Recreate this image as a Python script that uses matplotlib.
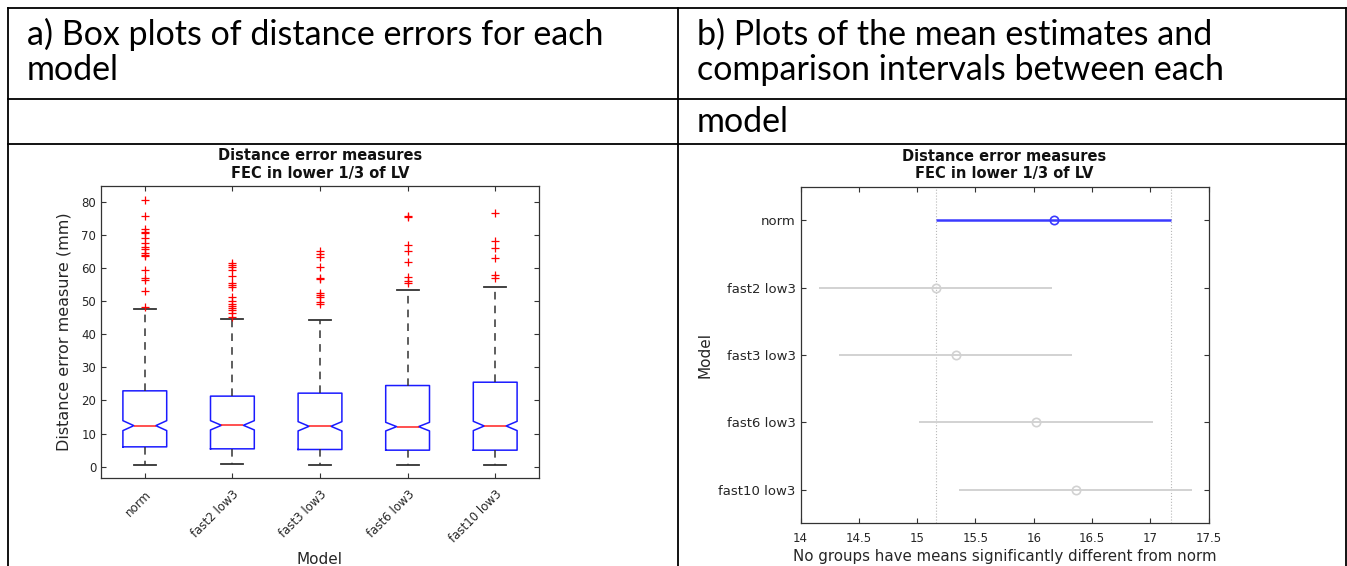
import numpy as np
import matplotlib
matplotlib.use("Agg")
from matplotlib import pyplot as plt
from matplotlib.lines import Line2D

W, H = 1347, 566  # figure size in pixels

models = ["norm", "fast2 low3", "fast3 low3", "fast6 low3", "fast10 low3"]

# Box plot summaries of the distance errors (mm)
q1 = [6.0, 5.4, 5.2, 5.0, 5.0]
medians = [12.4, 12.5, 12.2, 12.1, 12.3]
q3 = [22.9, 21.3, 22.2, 24.5, 25.5]
whisk_lo = [0.5, 0.8, 0.5, 0.6, 0.5]
whisk_hi = [47.6, 44.5, 44.4, 53.2, 54.3]
notch_half = [1.5, 1.4, 1.4, 1.3, 1.4]

fliers_norm = [80.6, 75.6, 71.7, 70.9, 70.4, 68.9, 67.6, 66.4, 65.8, 64.4,
               63.9, 63.5, 59.4, 56.9, 56.4, 52.9, 48.3]
fliers_fast2 = [61.6, 60.9, 60.2, 59.4, 57.4, 55.4, 54.9, 54.2, 51.3, 50.1,
                49.1, 48.5, 47.8, 47.3, 46.5, 45.3]
fliers_fast3 = [65.1, 64.2, 63.4, 60.2, 56.9, 56.6, 52.5, 51.8, 51.3, 49.8, 49.1]
fliers_fast6 = [75.5, 75.2, 66.9, 65.2, 61.9, 57.2, 56.1, 55.4]
fliers_fast10 = [76.5, 68.1, 65.9, 62.9, 57.9, 56.9]
fliers = [fliers_norm, fliers_fast2, fliers_fast3, fliers_fast6, fliers_fast10]

# Multiple comparison: group mean estimates and comparison intervals
means = [16.17, 15.16, 15.33, 16.02, 16.36]
ci_half = [1.005, 1.0, 1.0, 1.0, 1.0]

header_a = ["a) Box plots of distance errors for each", "model"]
header_b = ["b) Plots of the mean estimates and", "comparison intervals between each", "model"]
plot_title = "Distance error measures\nFEC in lower 1/3 of LV"

def fx(x):
    return x / W

def fy(y):
    return 1 - y / H

fig = plt.figure(figsize=(W / 100, H / 100), dpi=100)
fig.patch.set_facecolor("white")

# table grid around the two panels
grid_kw = dict(color="black", lw=1.3)
for (x0, y0, x1, y1) in [(7.5, 7.5, 1346, 7.5), (7.5, 99, 1346, 99), (7.5, 144, 1346, 144),
                         (7.5, 7.5, 7.5, 566), (678, 7.5, 678, 566), (1346, 7.5, 1346, 566)]:
    fig.add_artist(Line2D([fx(x0), fx(x1)], [fy(y0), fy(y1)], **grid_kw))

head_font = ["Lato", "DejaVu Sans"]
head_size = 24.5
fig.text(fx(27), fy(45), header_a[0], fontsize=head_size, family=head_font, va="baseline")
fig.text(fx(27), fy(80), header_a[1], fontsize=head_size, family=head_font, va="baseline")
fig.text(fx(697), fy(45), header_b[0], fontsize=head_size, family=head_font, va="baseline")
fig.text(fx(697), fy(80), header_b[1], fontsize=head_size, family=head_font, va="baseline")
fig.text(fx(697), fy(132), header_b[2], fontsize=head_size, family=head_font, va="baseline")

tick_col = "#262626"
label_size = 11

def style_axes(ax):
    for s in ax.spines.values():
        s.set_color("#333333")
        s.set_linewidth(0.9)
    ax.tick_params(direction="in", top=True, right=True, length=3.5, width=0.8,
                   colors="#333333", labelcolor=tick_col, labelsize=8.5)
    ax.set_title(plot_title, fontsize=10.5, fontweight="bold", color="#111111", pad=6,
                 linespacing=1.2)

# a) notched box plots
ax1 = fig.add_axes([fx(101), fy(478), (539 - 101) / W, (478 - 186) / H])
stats = []
for i in range(len(models)):
    stats.append(dict(med=medians[i], q1=q1[i], q3=q3[i], whislo=whisk_lo[i],
                      whishi=whisk_hi[i], fliers=fliers[i],
                      cilo=medians[i] - notch_half[i], cihi=medians[i] + notch_half[i]))
pos = np.arange(1, len(models) + 1)
ax1.bxp(stats, positions=pos, widths=0.5, capwidths=0.25, shownotches=True,
        boxprops=dict(color="#1a1aff", lw=1.1),
        medianprops=dict(color="#ff2020", lw=1.1),
        whiskerprops=dict(color="#333333", lw=1.1, linestyle=(0, (5, 4))),
        capprops=dict(color="#333333", lw=1.3),
        flierprops=dict(marker="+", markeredgecolor="red", markersize=6, markeredgewidth=0.9,
                        linestyle="none"))
ax1.set_xlim(0.5, 5.5)
ax1.set_ylim(-3.4, 84.7)
ax1.set_yticks(np.arange(0, 81, 10))
ax1.set_xticks(pos)
ax1.set_xticklabels(models, rotation=45, ha="right", rotation_mode="anchor")
style_axes(ax1)
ax1.tick_params(axis="x", pad=7)
ax1.set_ylabel("Distance error measure (mm)", fontsize=11.5, color=tick_col)
ax1.yaxis.set_label_coords(-0.067, 0.5)
ax1.set_xlabel("Model", fontsize=label_size, color=tick_col, va="top")
ax1.xaxis.set_label_coords(0.5, -0.255)

# b) comparison intervals, norm on top
ax2 = fig.add_axes([fx(800.5), fy(523.3), (1208.7 - 800.5) / W, (523.3 - 186.7) / H])
ypos = np.arange(len(models), 0, -1)
ref_lo, ref_hi = means[0] - ci_half[0], means[0] + ci_half[0]
ax2.axvline(ref_lo, color="#b8b8b8", lw=0.8, ls=":")
ax2.axvline(ref_hi, color="#b8b8b8", lw=0.8, ls=":")
for i in range(len(models)):
    if i == 0:
        col, lw = "#3a3aff", 1.8
    else:
        col, lw = "#d2d2d2", 1.4
    ax2.plot([means[i] - ci_half[i], means[i] + ci_half[i]], [ypos[i], ypos[i]],
             color=col, lw=lw, solid_capstyle="butt")
    ax2.plot(means[i], ypos[i], marker="o", mfc="none", mec=col, ms=6, mew=1.2)
ax2.set_xlim(14, 17.5)
ax2.set_ylim(0.5, 5.5)
ax2.set_xticks(np.arange(14, 17.51, 0.5))
ax2.set_xticklabels(["14", "14.5", "15", "15.5", "16", "16.5", "17", "17.5"])
ax2.set_yticks(ypos)
ax2.set_yticklabels(models)
style_axes(ax2)
ax2.tick_params(axis="y", labelsize=9.5)
ax2.tick_params(axis="x", pad=6)
ax2.set_ylabel("Model", fontsize=label_size, color=tick_col)
ax2.yaxis.set_label_coords(-0.215, 0.5)
ax2.set_xlabel("No groups have means significantly different from norm", fontsize=10.8,
               color=tick_col, va="top")
ax2.xaxis.set_label_coords(0.5, -0.075)

fig.savefig("out.png", dpi=100)
